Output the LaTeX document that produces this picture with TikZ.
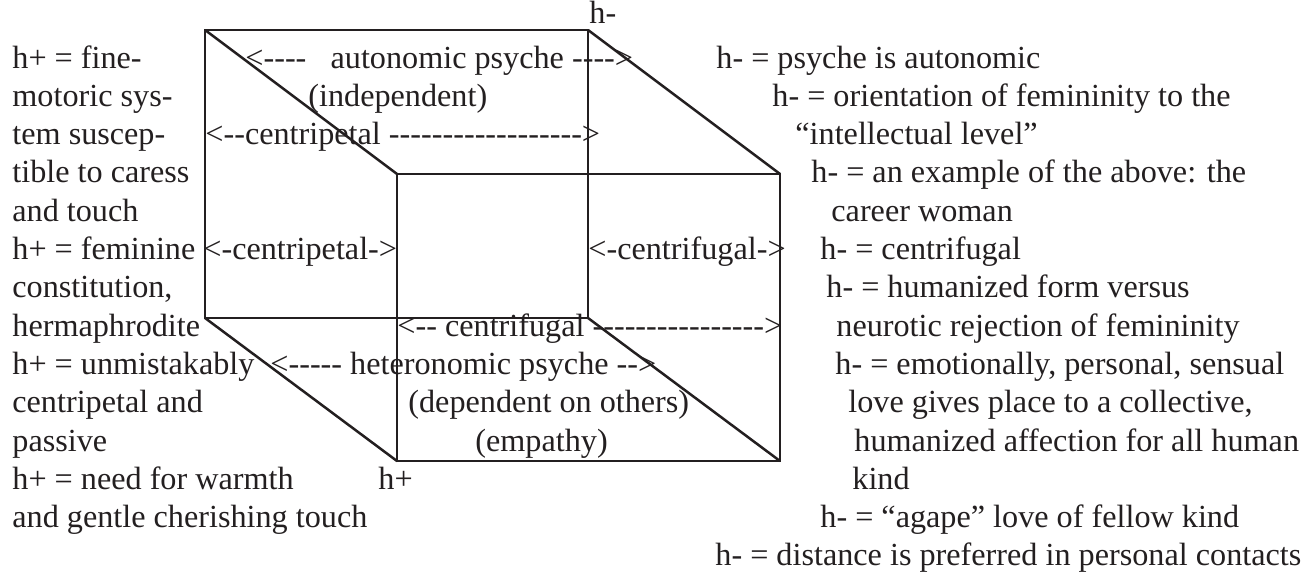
\documentclass[tikz,border=0pt]{standalone}
\usepackage{fontspec}
\setmainfont{Liberation Serif}[Ligatures=TeXOff]
\definecolor{ink}{RGB}{35,31,32}
\begin{document}
\begin{tikzpicture}[x=0.5pt,y=-0.5pt,
  txt/.style={anchor=base west, inner sep=0pt, text=ink, font=\fontsize{16.1pt}{19pt}\selectfont},
  edge/.style={draw=ink, line width=1.25pt, line join=miter}]
\useasboundingbox (0,0) rectangle (1311,573);
% cube corners
\coordinate (b1) at (205,30);  \coordinate (b2) at (588,30);
\coordinate (b3) at (588,318); \coordinate (b4) at (205,318);
\coordinate (f1) at (397,174); \coordinate (f2) at (780,174);
\coordinate (f3) at (780,461); \coordinate (f4) at (397,461);
\draw[edge] (b1) -- (b2) -- (b3) -- (b4) -- cycle;
\draw[edge] (f1) -- (f2) -- (f3) -- (f4) -- cycle;
\draw[edge] (b1) -- (f1);
\draw[edge] (b2) -- (f2);
\draw[edge] (b3) -- (f3);
\draw[edge] (b4) -- (f4);
% left column
\foreach \t [count=\i from 0] in {{h+ = fine-},{motoric sys-},{tem suscep-},{tible to caress},{and touch},{h+ = feminine},{constitution,},{hermaphrodite},{h+ = unmistakably},{centripetal and},{passive},{h+ = need for warmth},{and gentle cherishing touch}}
  \node[txt] (L\i) at (12,68+38.3*\i) {\t};
% right column
\foreach \x/\t [count=\i from 0] in {716/{h- = psyche is autonomic},772/{h- = orientation of femininity to the},795/{“intellectual level”},811/{h- = an example of the above: the},831/{career woman},820/{h- = centrifugal},826/{h- = humanized form versus},836/{neurotic rejection of femininity},835/{h- = emotionally, personal, sensual},848/{love gives place to a collective,},854/{humanized affection for all human},852/{kind},820/{h- = “agape” love of fellow kind},715/{h- = distance is preferred in personal contacts}}
  \node[txt] (R\i) at (\x,68+38.3*\i) {\t};
% labels in the cube
\node[txt] (hm) at (589,24) {h-};
\node[txt] (hp) at (378,489) {h+};
\node[txt] (auto) at (245,68) {<----\hspace{0.75em}autonomic psyche ---->};
\node[txt] (indep) at (308,106.3) {(independent)};
\node[txt] (cp1) at (205,144.6) {<--centripetal ------------------>};
\node[txt] (cp2) at (203,259.5) {<-centripetal->};
\node[txt] (cf1) at (588,259.5) {<-centrifugal->};
\node[txt] (cf2) at (397,336.1) {<-- centrifugal ---------------->};
\node[txt] (het) at (270,374.4) {<----- heteronomic psyche -->};
\node[txt] (dep) at (408,412.7) {(dependent on others)};
\node[txt] (emp) at (475,451) {(empathy)};
\end{tikzpicture}
\end{document}
